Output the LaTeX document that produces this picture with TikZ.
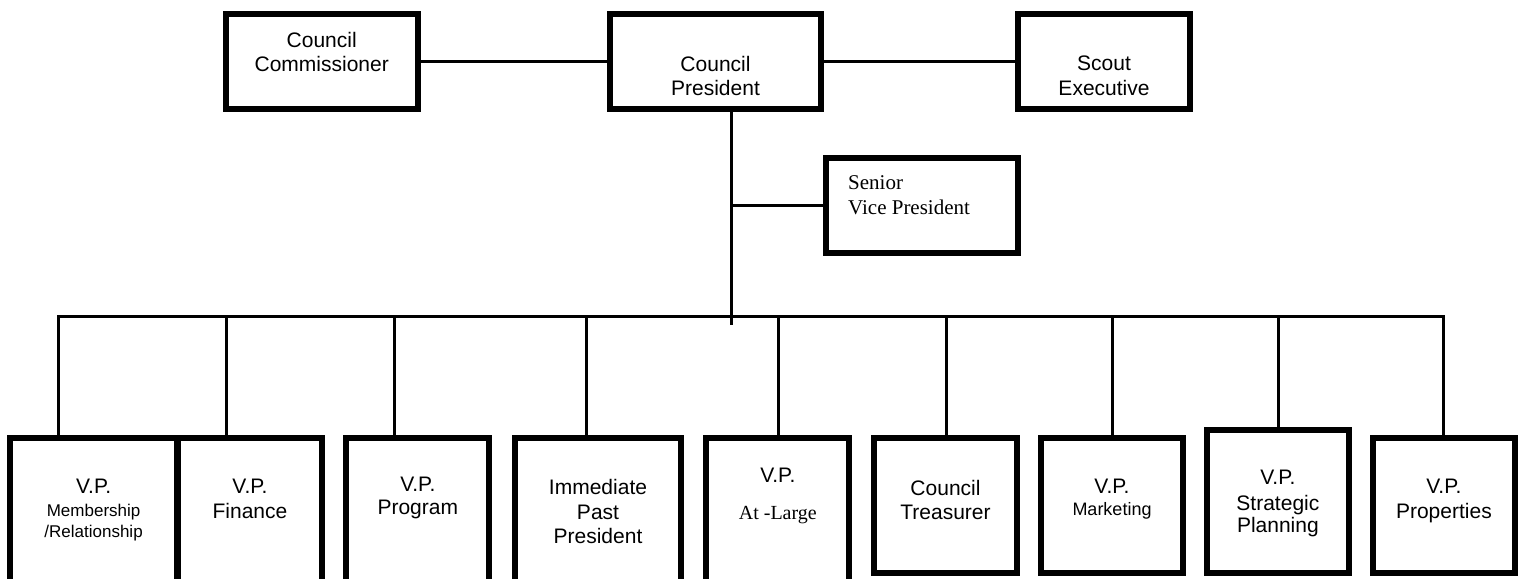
\documentclass[tikz,border=0pt]{standalone}
\usepackage{fontspec}
\setmainfont{Liberation Sans}
\newfontfamily\timesface{Liberation Serif}
\newcommand\subfs{\fontsize{17}{20}\selectfont}
\newcommand\mktfs{\fontsize{18}{20}\selectfont}
\begin{document}
\begin{tikzpicture}[x=1pt,y=-1pt,
  box/.style={draw=black, line width=6pt, inner sep=0pt},
  link/.style={draw=black, line width=3pt},
  lbl/.style={inner sep=0pt, align=center, anchor=north,
              font=\fontsize{21}{24}\selectfont},
  serifnote/.style={inner sep=0pt, align=left, anchor=north west,
              font=\timesface\fontsize{21}{25}\selectfont}]
\useasboundingbox (0,0) rectangle (1530,578);
\clip (0,0) rectangle (1530,578);

% top row
\node[box, minimum width=192pt, minimum height=95pt] (comm)  at (321.7,61.2) {};
\node[box, minimum width=211pt, minimum height=95pt] (pres)  at (715.5,61.2) {};
\node[box, minimum width=172pt, minimum height=95pt] (scout) at (1104,61.2) {};
\node[box, minimum width=192pt, minimum height=94.7pt] (svp) at (921.7,205.3) {};

% bottom row (the first five run past the lower edge)
\node[box, minimum width=166.7pt, minimum height=182pt] (mem)   at (93.6,529) {};
\node[box, minimum width=144pt,   minimum height=182pt] (fin)   at (250,529) {};
\node[box, minimum width=143pt,   minimum height=182pt] (prog)  at (417.8,529) {};
\node[box, minimum width=166.6pt, minimum height=182pt] (past)  at (598,529) {};
\node[box, minimum width=143pt,   minimum height=182pt] (large) at (777.8,529) {};
\node[box, minimum width=143pt,   minimum height=135pt] (treas) at (945.5,505.5) {};
\node[box, minimum width=141.4pt, minimum height=135pt] (mkt)   at (1112,505.5) {};
\node[box, minimum width=141.7pt, minimum height=143.3pt] (plan) at (1277.9,501.35) {};
\node[box, minimum width=141.7pt, minimum height=135pt] (prop)  at (1443.9,505.5) {};

% labels
\node[lbl] (comm-t)  at (321.7,32.3) {Council\\[-0.7pt]Commissioner};
\node[lbl] (pres-t)  at (715.5,55.7) {Council\\President};
\node[lbl] (scout-t) at (1104,55.5) {Scout\\[1pt]Executive};
\node[serifnote] (svp-t) at (848,175) {Senior\\Vice President};

\node[lbl] (mem-t)   at (93.6,479.3) {V.P.\\[-1.3pt]{\subfs Membership}\\[-3.4pt]{\subfs /Relationship}};
\node[lbl] (fin-t)   at (250,479.3) {V.P.\\[1pt]Finance};
\node[lbl] (prog-t)  at (417.8,476.4) {V.P.\\[-0.4pt]Program};
\node[lbl] (past-t)  at (598,479.5) {Immediate\\[1pt]Past\\[-0.3pt]President};
\node[lbl] (large-t) at (777.8,467.7) {V.P.\\[13.3pt]{\timesface\fontsize{20}{24}\selectfont At -Large}};
\node[lbl] (treas-t) at (945.5,480.5) {Council\\Treasurer};
\node[lbl] (mkt-t)   at (1112,479.3) {V.P.\\[-2.3pt]{\mktfs Marketing}};
\node[lbl] (plan-t)  at (1277.9,470) {V.P.\\[1.7pt]Strategic\\[-1.4pt]Planning};
\node[lbl] (prop-t)  at (1443.9,479.3) {V.P.\\[0.3pt]Properties};

% trunk and bus
\coordinate (tap) at (731,325);
\coordinate (b1) at (58.3,316.7);
\coordinate (b2) at (226.7,316.7);
\coordinate (b3) at (394.3,316.7);
\coordinate (b4) at (586.7,316.7);
\coordinate (b5) at (778.3,316.7);
\coordinate (b6) at (946,316.7);
\coordinate (b7) at (1112.7,316.7);
\coordinate (b8) at (1278.3,316.7);
\coordinate (b9) at (1443.3,316.7);

\draw[link] (comm.east) -- (pres.west);
\draw[link] (pres.east) -- (scout.west);
\draw[link] (pres.south -| tap) -- (tap);
\draw[link] (svp.west) -- (svp.west -| tap);
\draw[link] (b1 |- mem.north) -- (b1) -- (b9) -- (b9 |- prop.north);
\draw[link] (b2) -- (b2 |- fin.north);
\draw[link] (b3) -- (b3 |- prog.north);
\draw[link] (b4) -- (b4 |- past.north);
\draw[link] (b5) -- (b5 |- large.north);
\draw[link] (b6) -- (b6 |- treas.north);
\draw[link] (b7) -- (b7 |- mkt.north);
\draw[link] (b8) -- (b8 |- plan.north);
\end{tikzpicture}
\end{document}
